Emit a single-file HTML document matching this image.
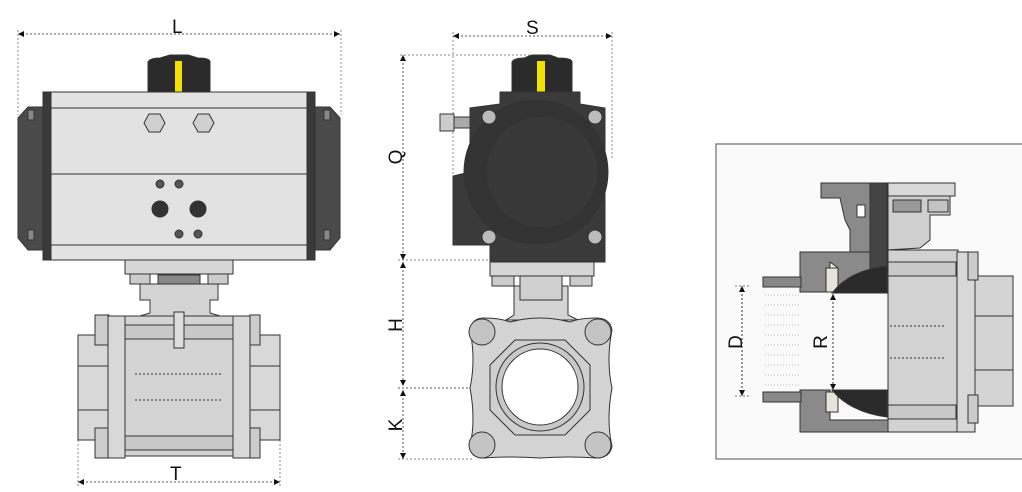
<!DOCTYPE html>
<html><head><meta charset="utf-8"><style>
html,body{margin:0;padding:0;background:#fff;}
svg{display:block}
text{font-family:"Liberation Sans",sans-serif;font-size:19px;fill:#111}
</style></head><body>
<svg width="1022" height="492" viewBox="0 0 1022 492" xmlns="http://www.w3.org/2000/svg">
<defs>
<marker id="a" viewBox="0 0 10 10" refX="10" refY="5" markerWidth="12" markerHeight="6" orient="auto-start-reverse" markerUnits="userSpaceOnUse"><path d="M0,0 L10,5 L0,10 z" fill="#111"/></marker>
</defs>
<g stroke="#888" stroke-width="1" stroke-dasharray="2,2" fill="none">
<line x1="18" y1="34" x2="340" y2="34" stroke="#555" marker-start="url(#a)" marker-end="url(#a)"/>
<line x1="18" y1="30" x2="18" y2="115"/><line x1="341" y1="30" x2="341" y2="115"/>
<line x1="78" y1="482" x2="280" y2="482" stroke="#555" marker-start="url(#a)" marker-end="url(#a)"/>
<line x1="78" y1="440" x2="78" y2="486"/><line x1="280" y1="440" x2="280" y2="486"/>
<line x1="453" y1="36" x2="612" y2="36" stroke="#555" marker-start="url(#a)" marker-end="url(#a)"/>
<line x1="453" y1="32" x2="453" y2="175"/><line x1="612" y1="32" x2="612" y2="160"/>
<line x1="400" y1="55" x2="530" y2="55"/>
<line x1="398" y1="260" x2="490" y2="260"/>
<line x1="398" y1="388" x2="530" y2="388" stroke="#555"/>
<line x1="398" y1="459" x2="473" y2="459"/>
<line x1="403" y1="55" x2="403" y2="260" stroke="#555" marker-start="url(#a)" marker-end="url(#a)"/>
<line x1="403" y1="262" x2="403" y2="386" stroke="#555" marker-start="url(#a)" marker-end="url(#a)"/>
<line x1="403" y1="390" x2="403" y2="459" stroke="#555" marker-start="url(#a)" marker-end="url(#a)"/>
</g>
<text x="172" y="33">L</text>
<text x="170" y="480">T</text>
<text x="526" y="34">S</text>
<text transform="translate(402,157) rotate(-90)" text-anchor="middle">Q</text>
<text transform="translate(402,325) rotate(-90)" text-anchor="middle">H</text>
<text transform="translate(402,425) rotate(-90)" text-anchor="middle">K</text>

<!-- LEFT VIEW -->
<g stroke="#333" stroke-width="1">
<path d="M148,62 Q150,58 160,58 L170,55 L188,55 L198,58 Q210,58 210,62 L210,92 L148,92 z" fill="#2b2b2b"/>
<rect x="175" y="61" width="7" height="31" fill="#f2e000" stroke="none"/>
<path d="M18,118 L28,107 L43,107 L43,250 L28,250 L18,238 z" fill="#4a4a4a"/>
<path d="M340,118 L330,107 L315,107 L315,250 L330,250 L340,238 z" fill="#4a4a4a"/>
<rect x="28" y="110" width="6" height="10" fill="#888"/><rect x="28" y="230" width="6" height="10" fill="#888"/>
<rect x="324" y="110" width="6" height="10" fill="#888"/><rect x="324" y="230" width="6" height="10" fill="#888"/>
<rect x="43" y="92" width="272" height="168" fill="#e2e2e2"/>
<rect x="43" y="92" width="8" height="168" fill="#3a3a3a"/>
<rect x="307" y="92" width="8" height="168" fill="#3a3a3a"/>
<line x1="51" y1="108" x2="307" y2="108"/><line x1="51" y1="174" x2="307" y2="174"/><line x1="51" y1="245" x2="307" y2="245"/>
<polygon points="144,123 149,114 160,114 165,123 160,132 149,132" fill="#d0d0d0"/>
<polygon points="193,123 198,114 209,114 214,123 209,132 198,132" fill="#d0d0d0"/>
<circle cx="160" cy="184" r="4" fill="#555"/><circle cx="179" cy="184" r="4" fill="#555"/>
<circle cx="160" cy="209" r="8" fill="#333"/><circle cx="198" cy="209" r="8" fill="#333"/>
<circle cx="179" cy="234" r="4" fill="#555"/><circle cx="198" cy="234" r="4" fill="#555"/>
<rect x="125" y="260" width="108" height="14" fill="#d6d6d6"/>
<rect x="130" y="274" width="20" height="10" fill="#ccc"/><rect x="208" y="274" width="20" height="10" fill="#ccc"/>
<rect x="158" y="275" width="42" height="10" fill="#888"/>
<path d="M140,284 L218,284 L218,300 L210,300 L210,313 L220,316 L140,316 L150,313 L150,300 L140,300 z" fill="#d4d4d4"/>
<rect x="78" y="335" width="32" height="105" fill="#d8d8d8"/>
<rect x="250" y="335" width="30" height="105" fill="#d8d8d8"/>
<line x1="78" y1="366" x2="110" y2="366"/><line x1="78" y1="410" x2="110" y2="410"/>
<line x1="250" y1="366" x2="280" y2="366"/><line x1="250" y1="410" x2="280" y2="410"/>
<rect x="95" y="315" width="14" height="30" fill="#ccc"/><rect x="95" y="428" width="14" height="30" fill="#ccc"/>
<rect x="250" y="315" width="10" height="30" fill="#ccc"/><rect x="250" y="428" width="10" height="30" fill="#ccc"/>
<rect x="125" y="316" width="108" height="140" fill="#d4d4d4"/>
<rect x="125" y="325" width="108" height="14" fill="#c8c8c8"/>
<rect x="125" y="436" width="108" height="14" fill="#c8c8c8"/>
<line x1="135" y1="374" x2="223" y2="374" stroke-dasharray="2,2"/><line x1="135" y1="400" x2="223" y2="400" stroke-dasharray="2,2"/>
<rect x="174" y="312" width="10" height="36" fill="#ddd"/>
<rect x="108" y="316" width="17" height="142" fill="#d8d8d8"/>
<rect x="233" y="316" width="17" height="142" fill="#d8d8d8"/>
</g>

<!-- MIDDLE VIEW -->
<g stroke="#333" stroke-width="1">
<path d="M512,62 Q514,58 524,58 L532,55 L550,55 L558,58 Q572,58 572,62 L572,92 L512,92 z" fill="#2b2b2b"/>
<rect x="537" y="61" width="8" height="31" fill="#f2e000" stroke="none"/>
<path d="M500,92 L580,92 L580,104 L605,108 L605,262 L490,262 L490,245 L453,245 L453,176 L470,172 L470,108 L500,104 z" fill="#3a3a3a"/>
<circle cx="536" cy="172" r="72" fill="#333"/>
<circle cx="542" cy="172" r="56" fill="#383838"/>
<circle cx="489" cy="117" r="7" fill="#bbb"/><circle cx="595" cy="117" r="7" fill="#bbb"/>
<circle cx="489" cy="237" r="7" fill="#bbb"/><circle cx="595" cy="237" r="7" fill="#bbb"/>
<rect x="440" y="114" width="14" height="17" fill="#ccc"/><rect x="454" y="117" width="16" height="11" fill="#aaa"/>
<rect x="490" y="262" width="104" height="14" fill="#d6d6d6"/>
<rect x="492" y="276" width="22" height="10" fill="#ccc"/><rect x="570" y="276" width="22" height="10" fill="#ccc"/>
<path d="M514,286 L568,286 L568,315 L578,320 L506,320 L514,315 z" fill="#d4d4d4"/>
<rect x="520" y="276" width="42" height="24" fill="#d0d0d0"/>
<path d="M470,330 Q472,318 484,318 Q500,318 510,322 Q540,314 570,322 Q580,318 596,318 Q610,318 612,330 Q606,360 612,388 Q606,420 612,446 Q610,458 596,458 Q570,456 540,458 Q510,456 484,458 Q470,458 470,446 Q476,420 470,388 Q476,360 470,330 z" fill="#d4d4d4"/>
<circle cx="482" cy="332" r="13" fill="#c4c4c4"/><circle cx="598" cy="332" r="13" fill="#c4c4c4"/>
<circle cx="482" cy="445" r="13" fill="#c4c4c4"/><circle cx="598" cy="445" r="13" fill="#c4c4c4"/>
<polygon points="515,340 565,340 590,365 590,410 565,435 515,435 490,410 490,365" fill="#cfcfcf"/>
<circle cx="540" cy="387" r="44" fill="#c8c8c8"/>
<circle cx="540" cy="387" r="38" fill="#fff"/>
</g>

<!-- RIGHT BOX -->
<rect x="716" y="144" width="310" height="315" fill="#fafafa" stroke="#888" stroke-width="1.5"/>
<g stroke="#333" stroke-width="1">
<rect x="975" y="276" width="38" height="130" fill="#d4d4d4"/>
<line x1="975" y1="316" x2="1013" y2="316"/><line x1="975" y1="370" x2="1013" y2="370"/>
<rect x="888" y="250" width="70" height="182" fill="#d2d2d2"/>
<rect x="888" y="262" width="68" height="14" fill="#c8c8c8"/><rect x="888" y="405" width="68" height="14" fill="#c8c8c8"/>
<line x1="890" y1="326" x2="945" y2="326" stroke-dasharray="2,2"/><line x1="890" y1="358" x2="945" y2="358" stroke-dasharray="2,2"/>
<rect x="957" y="252" width="18" height="180" fill="#d8d8d8"/>
<rect x="968" y="252" width="10" height="28" fill="#ccc"/><rect x="968" y="395" width="10" height="28" fill="#ccc"/>
<path d="M888,196 L950,196 L950,215 L930,215 L930,240 L920,248 L888,250 z" fill="#cfcfcf"/>
<rect x="888" y="183" width="67" height="13" fill="#d8d8d8"/>
<rect x="928" y="200" width="20" height="12" fill="#c4c4c4"/>
<rect x="893" y="200" width="28" height="12" fill="#999"/>
<path d="M821,183 L870,183 L870,260 L850,260 L850,230 L845,220 L840,198 L821,198 z" fill="#8a8a8a"/>
<path d="M800,252 L870,252 L870,292 L838,292 L838,268 L830,262 L830,292 L800,292 z" fill="#8a8a8a"/>
<path d="M800,390 L830,390 L830,420 L888,420 L888,432 L800,432 z" fill="#8a8a8a"/>
<rect x="870" y="183" width="17" height="97" fill="#444"/>
<rect x="857" y="205" width="8" height="12" fill="#fff"/>
<rect x="826" y="268" width="12" height="24" fill="#e6e4d6"/>
<rect x="826" y="392" width="12" height="20" fill="#e6e4d6"/>
<path d="M832,293 Q850,270 887,266 L887,293 z" fill="#2a2a2a"/>
<path d="M832,390 Q850,412 887,417 L887,390 z" fill="#2a2a2a"/>
<rect x="763" y="277" width="38" height="10" fill="#888"/>
<rect x="763" y="392" width="38" height="10" fill="#888"/>
</g>
<g stroke="#bbb" stroke-width="1" stroke-dasharray="1,2">
<line x1="765" y1="295" x2="800" y2="295"/><line x1="765" y1="305" x2="800" y2="305"/><line x1="765" y1="315" x2="800" y2="315"/><line x1="765" y1="325" x2="800" y2="325"/><line x1="765" y1="335" x2="800" y2="335"/><line x1="765" y1="345" x2="800" y2="345"/><line x1="765" y1="355" x2="800" y2="355"/><line x1="765" y1="365" x2="800" y2="365"/><line x1="765" y1="375" x2="800" y2="375"/><line x1="765" y1="385" x2="800" y2="385"/>
</g>
<g stroke="#777" stroke-width="1" stroke-dasharray="2,2" fill="none">
<line x1="735" y1="286" x2="750" y2="286"/><line x1="735" y1="396" x2="750" y2="396"/>
<line x1="742" y1="286" x2="742" y2="396" stroke="#333" marker-start="url(#a)" marker-end="url(#a)"/>
<line x1="833" y1="294" x2="833" y2="390" stroke="#333" marker-start="url(#a)" marker-end="url(#a)"/>
</g>
<text transform="translate(742,342) rotate(-90)" text-anchor="middle">D</text>
<text transform="translate(827,342) rotate(-90)" text-anchor="middle">R</text>
</svg>
</body></html>
